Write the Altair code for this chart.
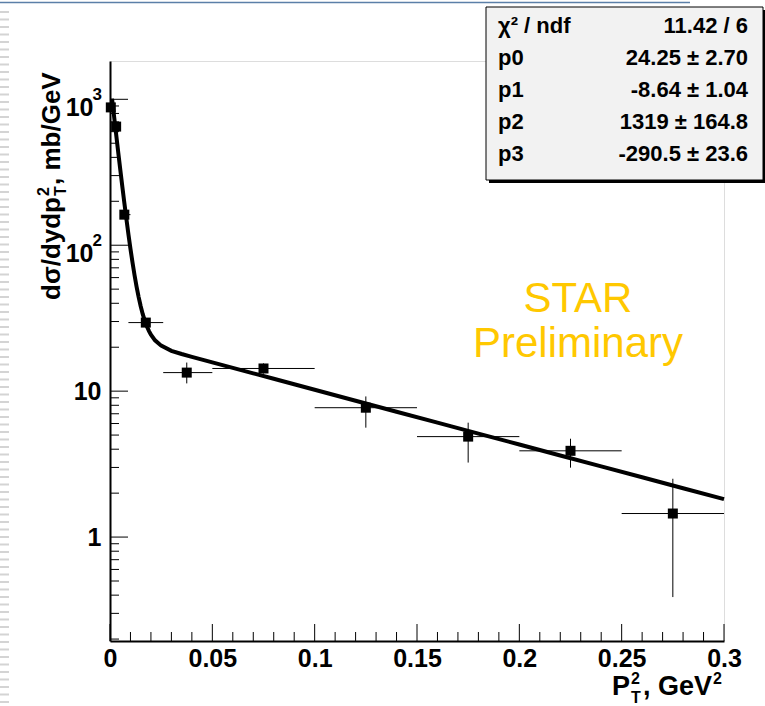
import altair as alt
import pandas as pd

# ---------------- data ----------------
x_pts = [0.0004, 0.003, 0.007, 0.0175, 0.0375, 0.075, 0.125, 0.175, 0.225, 0.275]
y_pts = [880, 650, 162, 29.5, 13.4, 14.3, 7.7, 4.88, 3.9, 1.45]
x_lo = [0.0, 0.002, 0.005, 0.009, 0.026, 0.05, 0.10, 0.15, 0.20, 0.25]
x_hi = [0.001, 0.004, 0.010, 0.026, 0.050, 0.10, 0.15, 0.20, 0.25, 0.30]
y_lo = [840, 620, 155, 28, 11.3, 13.2, 5.62, 3.24, 2.99, 0.388]
y_hi = [920, 680, 170, 31, 15.7, 15.5, 9.2, 6.08, 4.72, 2.51]

curve_x = [0.001, 0.002, 0.003, 0.004, 0.005, 0.006, 0.007, 0.008, 0.009, 0.010,
           0.011, 0.012, 0.013, 0.014, 0.015, 0.016, 0.017, 0.018, 0.019, 0.020,
           0.022, 0.025, 0.030, 0.035, 0.040, 0.05, 0.06, 0.07, 0.08, 0.09,
           0.10, 0.12, 0.14, 0.16, 0.18, 0.20, 0.22, 0.24, 0.26, 0.28, 0.30]
curve_y = [1010.4, 761.5, 575.3, 436.0, 331.8, 253.8, 195.4, 151.7, 118.9, 94.4,
           76.1, 62.3, 51.9, 44.1, 38.2, 33.7, 30.4, 27.8, 25.9, 24.4,
           22.3, 20.5, 18.9, 17.97, 17.18, 15.74, 14.44, 13.25, 12.15, 11.14,
           10.22, 8.60, 7.23, 6.09, 5.12, 4.31, 3.62, 3.05, 2.57, 2.16, 1.82]

x_major = [0, 0.05, 0.1, 0.15, 0.2, 0.25, 0.3]
x_minor = [0.01, 0.02, 0.03, 0.04, 0.06, 0.07, 0.08, 0.09, 0.11, 0.12, 0.13, 0.14,
           0.16, 0.17, 0.18, 0.19, 0.21, 0.22, 0.23, 0.24, 0.26, 0.27, 0.28, 0.29]
y_major = [1, 10, 100, 1000]
y_minor = [0.2, 0.3, 0.4, 0.5, 0.6, 0.7, 0.8, 0.9,
           2, 3, 4, 5, 6, 7, 8, 9,
           20, 30, 40, 50, 60, 70, 80, 90,
           200, 300, 400, 500, 600, 700, 800, 900]
y_exp_at = [100, 1000]
y_exp_txt = ["2", "3"]

stat_names = ["χ² / ndf", "p0", "p1", "p2", "p3"]
stat_values = ["11.42 / 6", "24.25 ± 2.70", "-8.64 ± 1.04", "1319 ± 164.8", "-290.5 ± 23.6"]

# ---------------- chart ----------------
W, H = 614, 580
X_DOM = [0, 0.3]
Y_DOM = [0.194, 1830]
FONT = "Liberation Sans"

xs = alt.Scale(domain=X_DOM, nice=False, zero=False)
ys = alt.Scale(type="log", domain=Y_DOM, nice=False)

pts = pd.DataFrame({"x": x_pts, "y": y_pts, "xlo": x_lo, "xhi": x_hi, "ylo": y_lo, "yhi": y_hi})
curve = pd.DataFrame({"x": curve_x, "y": curve_y})
one = alt.Data(values=[{}])

xaxis = alt.Axis(values=x_major, format="~g", ticks=False, tickSize=0, grid=False,
                 labelFont=FONT, labelFontWeight="bold", labelFontSize=25, labelColor="black",
                 labelPadding=5, domainColor="black", domainWidth=2, title=None, labelFlush=False)
yaxis = alt.Axis(values=y_major, format="~g", ticks=False, tickSize=0, grid=False,
                 labelExpr="datum.value >= 100 ? '10' : datum.label",
                 labelOffset={"condition": {"test": "datum.value >= 100", "value": 8}, "value": 0},
                 labelPadding={"condition": {"test": "datum.value >= 100", "value": 17}, "value": 9},
                 labelFont=FONT, labelFontWeight="bold", labelFontSize=25, labelColor="black",
                 domainColor="black", domainWidth=2, title=None)

base = alt.Chart(pts)

hbars = base.mark_rule(color="black", strokeWidth=1).encode(
    x=alt.X("xlo:Q", scale=xs, axis=xaxis), x2="xhi:Q",
    y=alt.Y("y:Q", scale=ys, axis=yaxis))
vbars = base.mark_rule(color="black", strokeWidth=1).encode(
    x=alt.X("x:Q", scale=xs), y=alt.Y("ylo:Q", scale=ys), y2="yhi:Q")
line = alt.Chart(curve).mark_line(color="black", strokeWidth=4).encode(
    x=alt.X("x:Q", scale=xs), y=alt.Y("y:Q", scale=ys))
marks = base.mark_square(color="black", size=100, opacity=1, filled=True).encode(
    x=alt.X("x:Q", scale=xs), y=alt.Y("y:Q", scale=ys))

xmaj = alt.Chart(pd.DataFrame({"v": x_major})).mark_rule(color="black", strokeWidth=1).encode(
    x=alt.X("v:Q", scale=xs), y=alt.value(H), y2=alt.value(H - 17))
xmin = alt.Chart(pd.DataFrame({"v": x_minor})).mark_rule(color="black", strokeWidth=1).encode(
    x=alt.X("v:Q", scale=xs), y=alt.value(H), y2=alt.value(H - 9))
ymaj = alt.Chart(pd.DataFrame({"v": y_major})).mark_rule(color="black", strokeWidth=1).encode(
    y=alt.Y("v:Q", scale=ys), x=alt.value(0), x2=alt.value(18))
ymin = alt.Chart(pd.DataFrame({"v": y_minor})).mark_rule(color="black", strokeWidth=1).encode(
    y=alt.Y("v:Q", scale=ys), x=alt.value(0), x2=alt.value(9))
yexp = alt.Chart(pd.DataFrame({"v": y_exp_at, "s": y_exp_txt})).mark_text(
    align="right", baseline="alphabetic", dy=1, font=FONT, fontWeight="bold", fontSize=17,
    color="black").encode(y=alt.Y("v:Q", scale=ys), x=alt.value(-8), text="s:N")

# stats box (shadow + box + text)
shadow = alt.Chart(one).mark_rect(color="black").encode(
    x=alt.value(379), x2=alt.value(656), y=alt.value(-51), y2=alt.value(122))
box = alt.Chart(one).mark_rect(fill="#f2f2f2", stroke="black", strokeWidth=1).encode(
    x=alt.value(376), x2=alt.value(653), y=alt.value(-54), y2=alt.value(119))
names = alt.Chart(one).mark_text(text=stat_names, align="left", baseline="alphabetic",
                                 lineHeight=32, font=FONT, fontWeight="bold", fontSize=22,
                                 color="black").encode(x=alt.value(388), y=alt.value(-28))
vals = alt.Chart(one).mark_text(text=stat_values, align="right", baseline="alphabetic",
                                lineHeight=32, font=FONT, fontWeight="bold", fontSize=22,
                                color="black").encode(x=alt.value(638), y=alt.value(-28))

# STAR Preliminary
star = alt.Chart(one).mark_text(text="STAR", align="center", baseline="alphabetic", font=FONT,
                                fontSize=42, color="#FFC800").encode(x=alt.value(468), y=alt.value(251))
prel = alt.Chart(one).mark_text(text="Preliminary", align="center", baseline="alphabetic", font=FONT,
                                fontSize=42, color="#FFC800").encode(x=alt.value(468), y=alt.value(296))

# axis titles
def txt(t, x, y, size, align="left", angle=0, baseline="alphabetic"):
    kw = dict(text=t, align=align, baseline=baseline, font=FONT, fontWeight="bold",
              fontSize=size, color="black")
    if angle:
        kw["angle"] = angle
    return alt.Chart(one).mark_text(**kw).encode(x=alt.value(x), y=alt.value(y))

xt1 = txt("P", 520, 634, 27, align="right")
xt2 = txt("2", 521, 623, 16)
xt3 = txt("T", 521, 642, 16)
xt4 = txt(", GeV", 533, 634, 27)
xt5 = txt("2", 603, 623, 16)

yt1 = txt("dσ/dydp", -50, 239, 26, align="left", angle=270)
yt2 = txt("2", -61, 135, 16, align="left", angle=270)
yt3 = txt("T", -44, 135, 16, align="left", angle=270)
yt4 = txt(", mb/GeV", -50, 124, 26, align="left", angle=270)

# slide decoration: top rule and left stripes
topline = alt.Chart(one).mark_rule(color="#5b7fa8", strokeWidth=1.5).encode(
    x=alt.value(-110), x2=alt.value(580), y=alt.value(-58.5))
stripes = alt.Chart(one).mark_rule(color="#d4d4d4", strokeWidth=9, strokeDash=[2, 5.5]).encode(
    x=alt.value(-105.5), y=alt.value(-50), y2=alt.value(645))

chart = alt.layer(
    hbars, vbars, line, marks, xmaj, xmin, ymaj, ymin, yexp,
    shadow, box, names, vals, star, prel,
    xt1, xt2, xt3, xt4, xt5, yt1, yt2, yt3, yt4, topline, stripes
).properties(
    width=W, height=H, autosize="none",
    padding={"left": 110, "top": 61, "right": 41, "bottom": 65},
).configure_view(stroke="black", strokeWidth=1).configure(background="white")

chart.save("out.html", embed_options={"renderer": "svg", "actions": False})
